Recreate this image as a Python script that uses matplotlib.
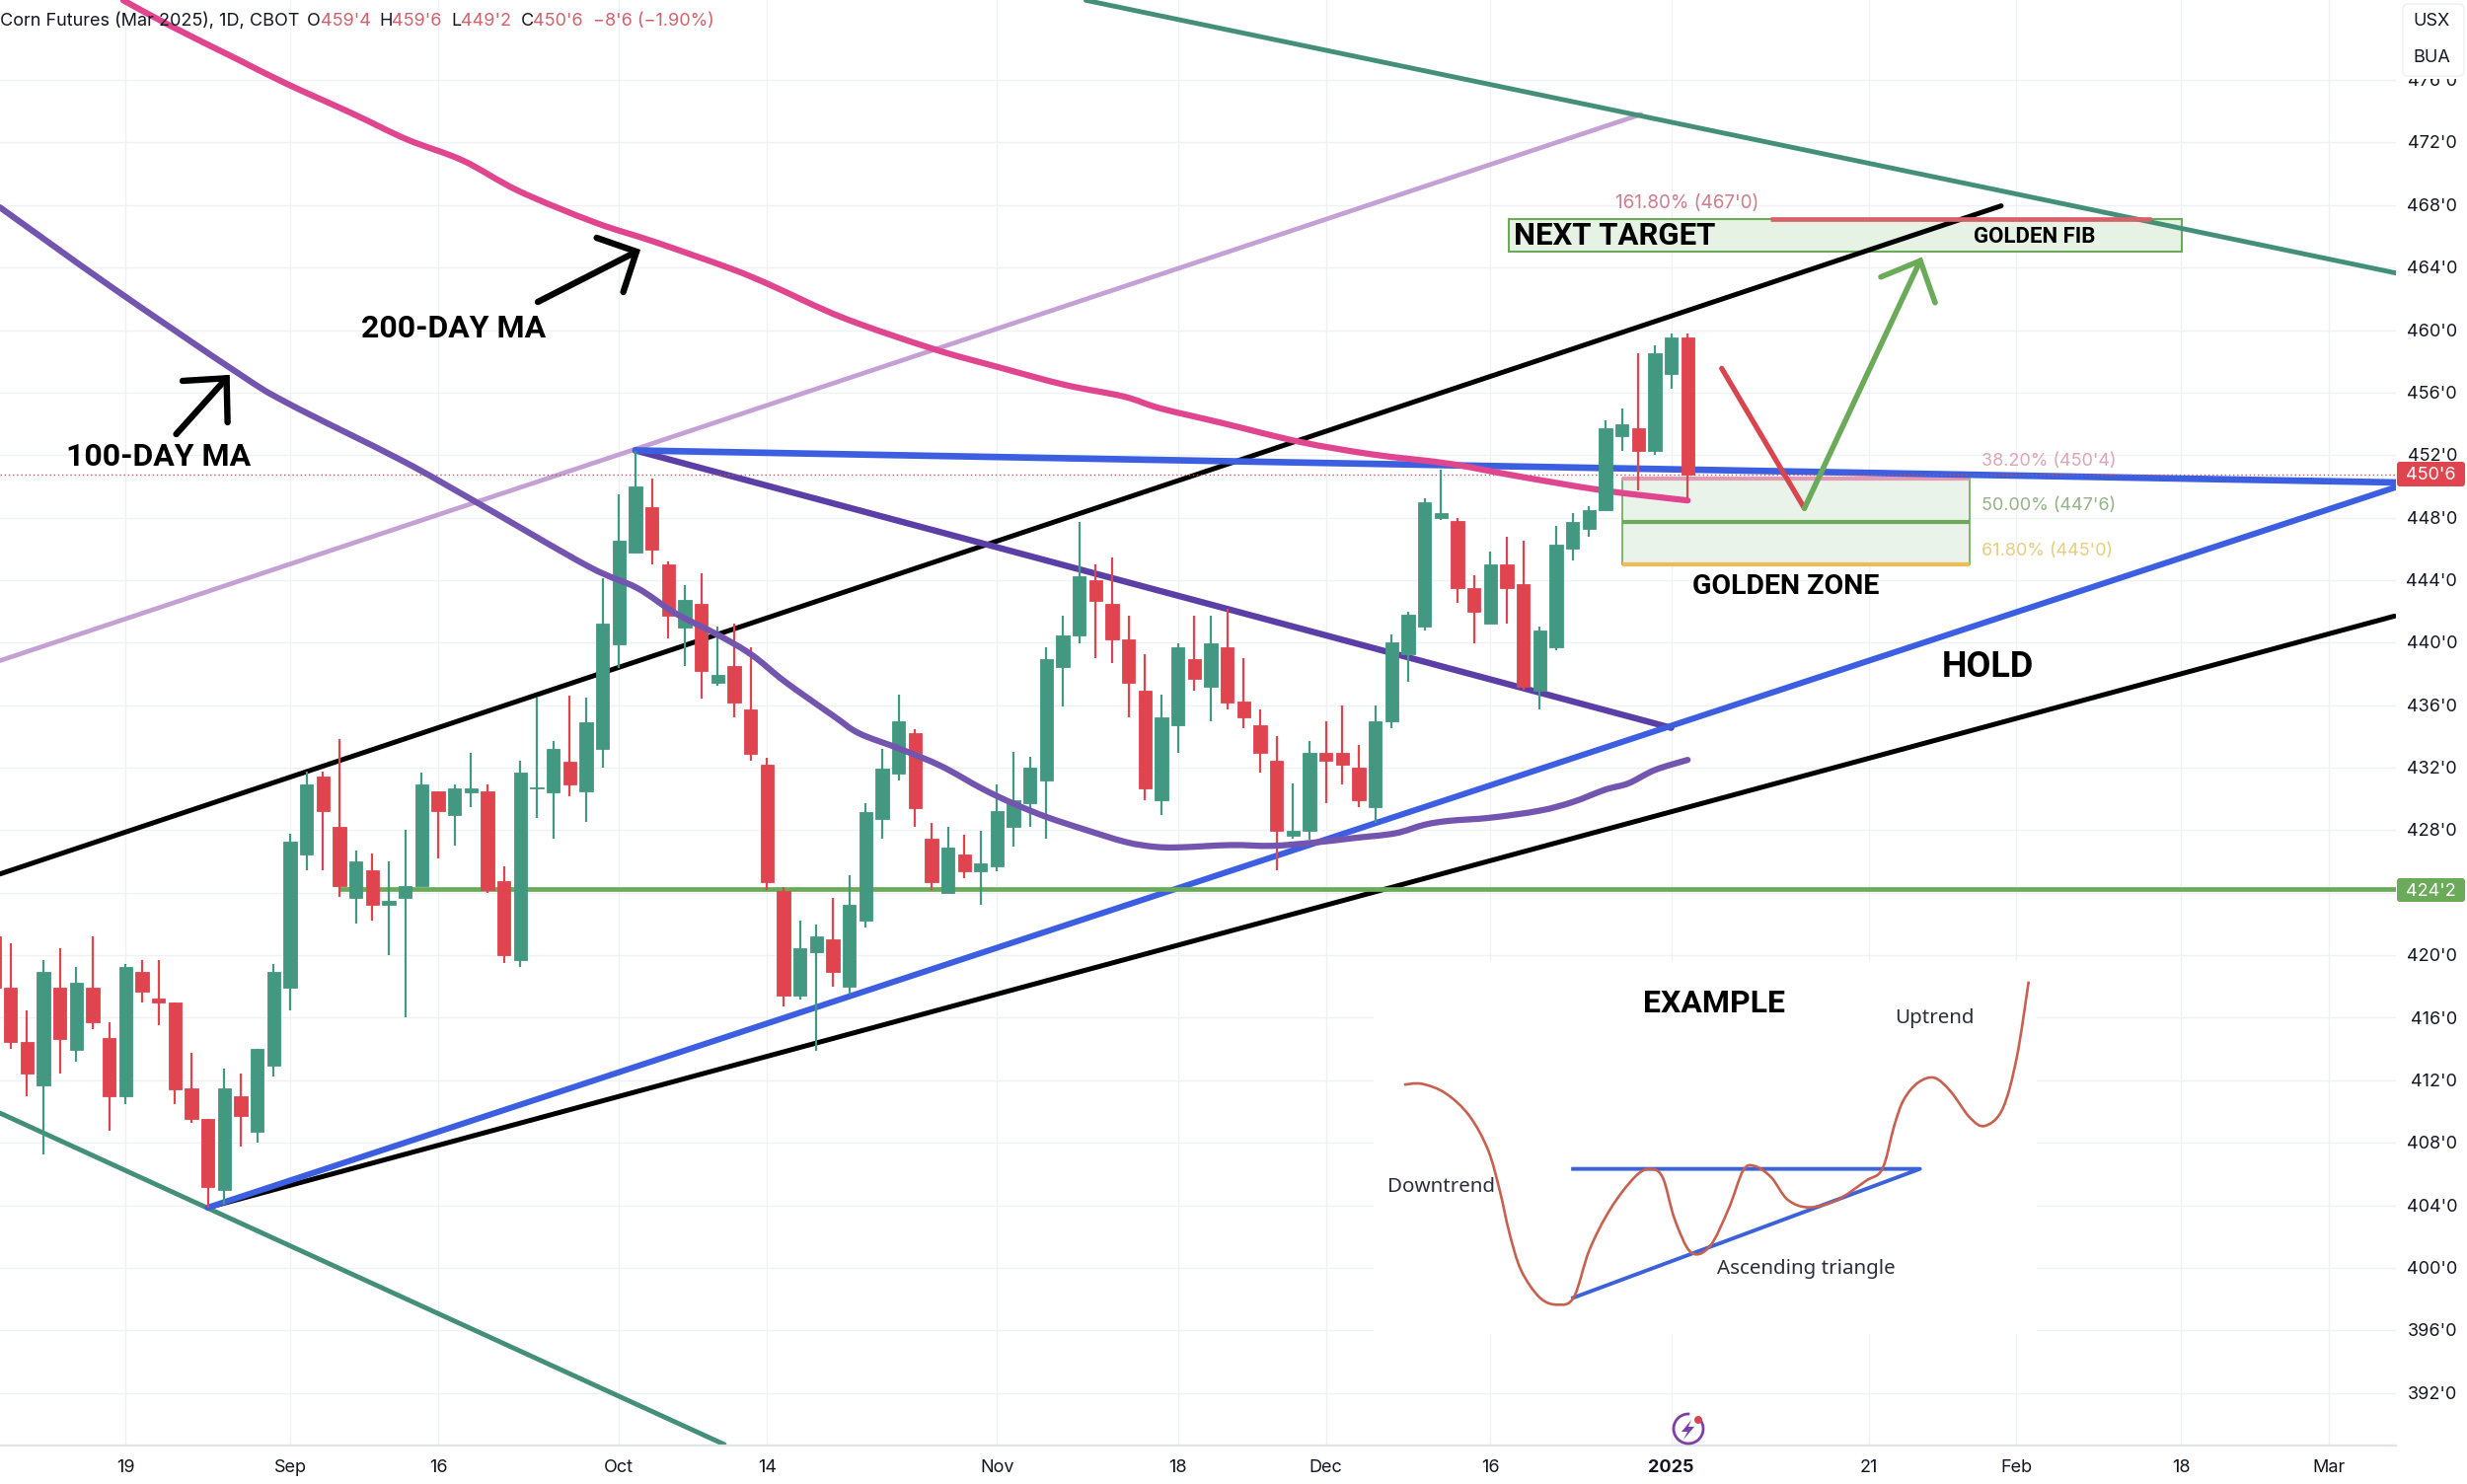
import matplotlib
matplotlib.use("Agg")
import matplotlib.pyplot as plt
from matplotlib.path import Path
from matplotlib.patches import PathPatch, Rectangle, FancyBboxPatch, Circle, Arc, Polygon

# ---------- candles (bar index 0 = 19 Aug 2024) ----------
bar_index = list(range(-8, 96))
opens = [421.2,417.95,414.45,411.7,417.95,413.95,417.95,414.7,411,418.95,417.2,417,411.5,409.5,404.95,411,408.7,412.95,417.95,426.45,
         431.45,428.2,423.7,425.45,423.2,423.7,424.45,430.5,428.95,430.45,430.5,424.75,419.7,430.7,430.45,432.4,430.5,433.2,439.9,445.75,
         448.7,445,440.95,442.5,437.45,438.5,435.7,432.2,424.1,417.4,420.2,421,418,422.2,428.7,431.65,434.2,427.45,424,426.45,
         425.35,425.7,428.2,429.7,431.2,438.45,440.45,444,442.5,440.2,436.95,429.95,434.7,438.95,437.2,439.7,436.25,434.7,432.45,427.65,
         427.95,432.95,432.95,432,429.45,434.95,439.25,441,447.95,447.8,443.5,441.25,445,443.75,436.95,439.7,446,447.25,448.5,453.2,
         453.7,452.25,457.2,459.5]
highs = [421.2,420.75,416.45,419.7,420.45,419.25,421.2,415.7,419.45,419.7,419.7,417,413.75,409.5,412.75,412.45,414,419.45,427.75,431.75,
         431.75,433.85,426.7,426.5,426,428,431.7,430.5,430.95,432.95,430.95,425.7,432.45,436.5,433.7,436.6,436.5,444.15,449.5,452.25,
         450.5,445.2,443.7,444.45,441,441.25,439.7,432.65,424.35,422.2,421.95,423.65,425.1,429.7,433.2,436.7,434.45,428.45,428.2,427.7,
         427.95,430.9,433,432.7,439.7,441.7,447.7,445,445.45,441.7,439.25,436.7,439.95,441.7,441.7,442.15,439,435.75,434,431,
         433.7,435,435.95,433.45,435.95,440.5,442,449.25,451.1,448,444.3,445.8,446.8,446.5,441,447.5,448.3,448.75,454.2,455,
         458.5,459,459.75,459.75]
lows = [417,414,411,407.25,412.45,413.2,415.25,408.75,410.5,417,415.5,410.5,409.25,403.85,404.05,407.75,408,412.25,416.45,425.45,
        425.45,423.75,422,422.2,420,416,424.45,426.2,427,429.45,424,419.5,419.25,428.8,427.45,430.2,428.5,432,438.4,445.75,
        445,440.25,438.5,436.45,437.25,435.25,432.45,424.2,416.7,417.15,413.9,418,417.5,421.8,427.45,431.2,428.2,424.2,424,424.95,
        423.2,425.4,426.95,428.2,427.45,435.9,439.95,439,438.7,435.25,429.95,428.95,432.95,436.95,434.95,435.7,434.5,431.7,425.45,427.45,
        427.4,429.7,430.95,429.45,428.45,434.5,437.5,440.75,447.85,442.55,439.95,441.25,441.25,437,435.75,439.5,445.25,446.8,448.5,452.25,
        449.75,452,456.25,449.25]
closes = [417.9,414.45,412.4,418.95,414.65,418.25,415.7,411,419.25,417.7,416.95,411.45,409.5,405.2,411.5,409.7,414,418.95,427.25,430.95,
          429.2,424.45,426,423.2,423.5,424.45,430.95,429.2,430.7,430.7,424.15,420,431.7,430.75,433.2,430.9,434.9,441.2,446.5,450,
          445.95,441.7,442.75,438.2,437.95,436.2,432.9,424.7,417.4,420.45,421.2,418.95,423.2,429.15,431.95,434.95,429.4,424.7,426.9,425.35,
          425.9,429.2,429.95,432,438.95,440.45,444.25,442.7,440.2,437.45,430.7,435.2,439.7,437.7,439.95,436.2,435.2,432.95,427.95,427.95,
          432.95,432.45,432.2,429.9,434.95,440,441.8,449,448.3,443.5,441.95,445,443.5,437.2,440.75,446.25,447.75,448.5,453.7,454,
          452.25,458.5,459.5,450.75]

# ---------- moving averages ----------
ma100_x = [-7.65,-0.93,6.75,9.8,16.8,21.3,28.1,31.1,33.4,36.1,38.1,40.1,43.06,44.6,47.1,49.6,52.1,54,56,58.3,60.8,62.5,64,67.2,69.7,72.2,74.7,77.2,79,80.5,83,86,88,90,91.4,93,95]
ma100_y = [467.85,462.8,457.3,455.35,451.65,449,444.9,443.5,441.9,440.45,439.2,437.5,435.3,434.2,433.2,432.1,430.65,429.7,428.85,428.05,427.25,426.95,426.9,427.05,427,427.2,427.5,427.8,428.35,428.6,428.8,429.25,429.8,430.6,431,431.85,432.5]
ma200_x = [-0.15,2.75,6.75,9.8,13.8,17.1,20.5,23.9,28.5,32.15,36.75,39.17,43.6,49.1,53,57.1,60.7,62.9,66.7,71.4,75.8,80.5,84.4,89.8,95]
ma200_y = [481.1,479.45,477.35,475.75,473.85,472.2,470.85,468.9,466.9,465.65,463.95,462.9,460.8,458.8,457.65,456.5,455.75,455,454.05,452.85,452.05,451.45,450.7,449.75,449.1]

# ---------- drawn trend lines: (x0, y0, x1, y1, colour, width in pt) ----------
trend_lines = [
    (-7.65, 425.2, 114.07, 467.95, "#000000", 3.6),
    (4.98, 403.85, 137.99, 441.7, "#000000", 3.6),
    (-7.65, 438.85, 92.15, 473.8, "#c4a0d4", 3.4),
    (58.4, 481.1, 138.08, 463.65, "#438f78", 3.5),
    (-7.65, 409.9, 36.4, 388.7, "#438f78", 3.5),
    (31, 452.3, 94, 434.55, "#5b3ea6", 4.6),
    (4.98, 403.85, 138.08, 449.95, "#3b5fe0", 4.4),
    (31, 452.3, 138.08, 450.25, "#3b5fe0", 4.8),
]

# ---------- levels ----------
support_level = 424.25
last_price = 450.75
fib_levels = [450.5, 447.75, 445.0]
fib_colors = ["#e39ab2", "#6aaa58", "#ecbd55"]
fib_start, fib_end = 91, 112.15
target_level = 467.1
target_start, target_end = 100, 123.2
target_box = (84.1, 465.0, 125.06, 467.1)

# ---------- forecast path ----------
drop_x = [97.07, 102.1]
drop_y = [457.55, 448.6]
rise_x = [102.1, 109.15]
rise_y = [448.6, 464.45]

# ---------- inset example ----------
example_x = [77.75,78.84,80.27,81.71,82.86,83.58,84.15,84.87,86.02,87.11,88.08,89.03,90.32,91.76,92.68,93.48,94.2,95.2,96.35,97.5,98.37,99.08,100.09,101.09,102.39,104.11,105.83,106.84,107.56,108.13,108.99,110,111,112.15,113.07,114.16,115.02,115.74]
example_y = [411.72,411.77,411.17,409.74,407.54,404.9,402.26,399.84,398.08,397.64,398.13,401.16,403.8,405.78,406.33,405.78,403.14,400.99,401.38,403.8,406.22,406.51,405.78,404.35,403.87,404.35,405.56,406.33,409.08,410.73,411.83,412.16,411.28,409.63,409.08,410.18,413.48,418.32]
triangle_x = [88.03, 109.13, 88.03]
triangle_y = [406.33, 406.33, 398.08]

# ---------- axis labels ----------
y_ticks = list(range(392, 480, 4))
x_ticks = [0, 10, 19, 30, 39, 53, 64, 73, 83, 94, 106, 115, 125, 134]
x_labels = ["19", "Sep", "16", "Oct", "14", "Nov", "18", "Dec", "16", "2025", "21", "Feb", "18", "Mar"]

W, H = 2500, 1504
UI = "Inter"
BOLD = "Roboto"
GREEN, RED = "#439881", "#e0444f"
LINEGREEN = "#6aaa58"

fig = plt.figure(figsize=(W / 100, H / 100), dpi=100, facecolor="white")
plot_right, plot_bottom = 2428, 1465
ax = fig.add_axes([0, 1 - plot_bottom / H, plot_right / W, plot_bottom / H])
ax.set_xlim(-7.65, 138.08)
ax.set_ylim(388.63, 481.12)
ax.set_yticks(y_ticks)
ax.set_xticks(x_ticks)
ax.tick_params(length=0, labelleft=False, labelbottom=False)
ax.grid(True, color="#eff1f4", lw=1.0)
ax.set_axisbelow(True)
for name in ("top", "left", "right"):
    ax.spines[name].set_visible(False)
ax.spines["bottom"].set_color("#e0e3e8")
ax.spines["bottom"].set_linewidth(1.6)

ov = fig.add_axes([0, 0, 1, 1], zorder=10)
ov.set_xlim(0, W)
ov.set_ylim(H, 0)
ov.axis("off")
ov.patch.set_alpha(0)

# white inset background hides the grid
ax.add_patch(Rectangle((1392, 974), 672, 378, transform=ov.transData, fc="white", ec="none", zorder=0.9))


def smooth(xs, ys):
    verts = [(xs[0], ys[0])]
    codes = [Path.MOVETO]
    n = len(xs)
    for i in range(n - 1):
        x0, y0 = (xs[i - 1], ys[i - 1]) if i > 0 else (xs[i], ys[i])
        x3, y3 = (xs[i + 2], ys[i + 2]) if i + 2 < n else (xs[i + 1], ys[i + 1])
        verts += [(xs[i] + (xs[i + 1] - x0) / 6, ys[i] + (ys[i + 1] - y0) / 6),
                  (xs[i + 1] - (x3 - xs[i]) / 6, ys[i + 1] - (y3 - ys[i]) / 6),
                  (xs[i + 1], ys[i + 1])]
        codes += [Path.CURVE4] * 3
    return Path(verts, codes)


# fib zones
ax.add_patch(Rectangle((fib_start, fib_levels[2]), fib_end - fib_start, fib_levels[0] - fib_levels[2],
                       fc="#e9f3e9", ec=LINEGREEN, lw=1.2, zorder=1))
ax.add_patch(Rectangle((target_box[0], target_box[1]), target_box[2] - target_box[0], target_box[3] - target_box[1],
                       fc="#e6f2e4", ec=LINEGREEN, lw=1.5, zorder=1))
for lvl, col in zip(fib_levels, fib_colors):
    ax.hlines(lvl, fib_start, fib_end, color=col, lw=3.0, zorder=1.5)

# trend lines
for x0, y0, x1, y1, col, lw in trend_lines:
    ax.plot([x0, x1], [y0, y1], color=col, lw=lw, solid_capstyle="round", zorder=2)
ax.hlines(support_level, 13, 138.08, color=LINEGREEN, lw=3.4, zorder=2)
ax.hlines(target_level, target_start, target_end, color="#d8606a", lw=3.4, zorder=2.2)
ax.hlines(last_price, -7.65, 138.08, color="#c2555a", lw=1.0, linestyles=(0, (1, 2)), zorder=2)
ax.add_patch(PathPatch(smooth(ma200_x, ma200_y), fc="none", ec="#e0468f", lw=4.5, capstyle="round", zorder=2.5))

# candles
colors = [GREEN if c >= o else RED for o, c in zip(opens, closes)]
ax.vlines(bar_index, lows, highs, colors=colors, lw=1.6, zorder=3)
ax.bar(bar_index, [abs(c - o) for o, c in zip(opens, closes)], bottom=[min(o, c) for o, c in zip(opens, closes)],
       width=0.8, color=colors, edgecolor=colors, linewidth=0.6, zorder=3.1)
ax.add_patch(PathPatch(smooth(ma100_x, ma100_y), fc="none", ec="#7355b0", lw=4.5, capstyle="round", zorder=3.5))

# forecast path
ax.plot(drop_x, drop_y, color="#d9454f", lw=3.8, solid_capstyle="round", zorder=4)
ax.plot(rise_x, rise_y, color=LINEGREEN, lw=4.0, solid_capstyle="round", zorder=4)

# inset
ax.add_patch(PathPatch(smooth(example_x, example_y), fc="none", ec="#c8604f", lw=1.9, zorder=4))
ax.plot(triangle_x, triangle_y, color="#3b62d8", lw=2.8, zorder=3.9)

# ---------- overlay: arrows ----------
for shaft, barbs, col, lw in [
    (((545, 306), (645, 255)), ((604.6, 241), (645, 255), (631.6, 296)), "black", 4.6),
    (((178.6, 440), (229.6, 383.3)), ((185, 386), (229.6, 383.3), (230.6, 428)), "black", 4.6),
    (((1946, 264.3), (1946, 264.3)), ((1906, 280.7), (1946, 264.3), (1961, 306.7)), LINEGREEN, 4.0),
]:
    ov.plot(*zip(*shaft), color=col, lw=lw, solid_capstyle="round")
    ov.plot(*zip(*barbs), color=col, lw=lw, solid_capstyle="round", solid_joinstyle="miter")


def T(x, y, s, size=13, color="#131722", ha="center", family=UI, weight="normal", z=5):
    return ov.text(x, y + 1.5, s, fontsize=size, color=color, ha=ha, va="center", family=family, fontweight=weight, zorder=z)


# bold annotations
T(460, 332, "200-DAY MA", 23, "black", family=BOLD, weight="bold")
T(160.5, 462, "100-DAY MA", 23, "black", family=BOLD, weight="bold")
T(1534, 238, "NEXT TARGET", 22.4, "black", ha="left", family=BOLD, weight="bold")
T(2062, 239, "GOLDEN FIB", 16, "black", family=BOLD, weight="bold")
T(1810, 593, "GOLDEN ZONE", 20.5, "black", family=BOLD, weight="bold")
T(2014, 675, "HOLD", 26, "black", family=BOLD, weight="bold")
T(1737, 1016, "EXAMPLE", 23, "black", family=BOLD, weight="bold")

# inset labels
T(1460, 1201, "Downtrend", 14.8, "#2a2e39", family="Noto Sans")
T(1960, 1030, "Uptrend", 14.8, "#2a2e39", family="Noto Sans")
T(1830, 1284, "Ascending triangle", 14.8, "#2a2e39", family="Noto Sans")

# fib labels
T(2008, 466, "38.20% (450'4)", 13, "#dba6b8", ha="left")
T(2008, 511, "50.00% (447'6)", 13, "#93b386", ha="left")
T(2008, 557, "61.80% (445'0)", 13, "#e6cd7f", ha="left")
T(1637, 205, "161.80% (467'0)", 13.6, "#cf7f8c", ha="left")

# header
T(0, 20, "Corn Futures (Mar 2025), 1D, CBOT", 13, "#131722", ha="left")
for x, s, col in [(311, "O", "#131722"), (324.5, "459'4", "#d0626c"), (384, "H", "#131722"), (397, "459'6", "#d0626c"),
                  (457.6, "L", "#131722"), (467, "449'2", "#d0626c"), (527.5, "C", "#131722"), (540, "450'6", "#d0626c"),
                  (601, "\u22128'6 (\u22121.90%)", "#d0626c")]:
    T(x, 20, s, 13, col, ha="left")

# y tick labels
y_to_px = lambda p: 144.5 + (472 - p) * 15.84
for p in y_ticks:
    T(2490, y_to_px(p), f"{p}'0", 13, ha="right", z=1)
ov.add_patch(Rectangle((2433, 60), 66, 20, fc="white", ec="none", zorder=1.5))
ov.add_patch(FancyBboxPatch((2435, 4), 62, 73, boxstyle="round,pad=0,rounding_size=5", fc="white", ec="#eef0f3", lw=1, zorder=2))
T(2464, 20, "USX", 13)
T(2464, 57, "BUA", 13)

# x tick labels
x_to_px = lambda i: 127.5 + i * 16.66
for i, s in zip(x_ticks, x_labels):
    T(x_to_px(i), 1486, s, 13, weight="bold" if s == "2025" else "normal")

# price badges
ov.add_patch(FancyBboxPatch((2429, 468), 69, 25, boxstyle="round,pad=0,rounding_size=3", fc="#e0444f", ec="none", zorder=3))
T(2489, 480.5, "450'6", 13, "white", ha="right")
ov.add_patch(FancyBboxPatch((2429, 890), 69, 24, boxstyle="round,pad=0,rounding_size=3", fc="#6aaa58", ec="none", zorder=3))
T(2489, 902, "424'2", 13, "white", ha="right")

# lightning icon
ov.add_patch(Arc((1711, 1448), 30, 30, theta1=-50, theta2=275, ec="#7b3fa8", lw=2.0, zorder=5))
ov.add_patch(Polygon([(1714, 1439), (1704, 1451), (1710, 1451), (1706, 1459), (1717, 1446), (1711, 1446)],
                     fc="#7b3fa8", ec="none", zorder=5))
ov.add_patch(Circle((1721, 1439), 4, fc="#d9454f", ec="none", zorder=6))

fig.savefig("out.png", dpi=100, facecolor="white")
